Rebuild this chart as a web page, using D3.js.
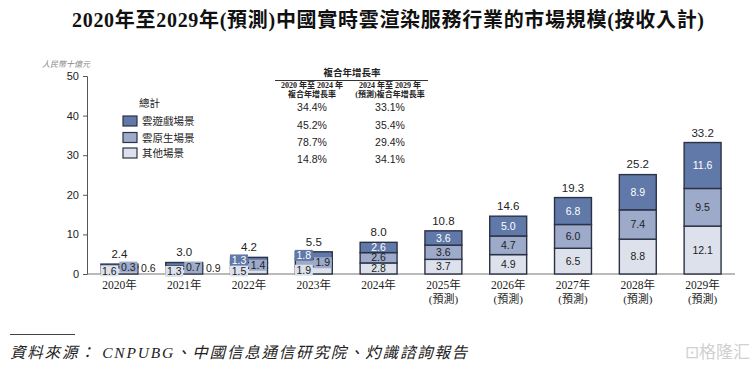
<!DOCTYPE html>
<html>
<head>
<meta charset="utf-8">
<script src="https://cdn.jsdelivr.net/npm/d3@7"></script>
<style>
  body { margin: 0; background: #fff; }
  svg { display: block; }
</style>
</head>
<body>
<svg id="chart"></svg>
<script>
var width = 755, height = 371

// data
var years = ["2020年", "2021年", "2022年", "2023年", "2024年", "2025年", "2026年", "2027年", "2028年", "2029年"]
var subLabels = ["", "", "", "", "", "(預測)", "(預測)", "(預測)", "(預測)", "(預測)"]
var other = [1.6, 1.3, 1.5, 1.9, 2.8, 3.7, 4.9, 6.5, 8.8, 12.1]
var native = [0.3, 0.7, 1.4, 1.9, 2.6, 3.6, 4.7, 6.0, 7.4, 9.5]
var game = [0.6, 0.9, 1.3, 1.8, 2.6, 3.6, 5.0, 6.8, 8.9, 11.6]
var totals = [2.4, 3.0, 4.2, 5.5, 8.0, 10.8, 14.6, 19.3, 25.2, 33.2]
var legendNames = ["雲遊戲場景", "雲原生場景", "其他場景"]
var cagr2024 = ["34.4%", "45.2%", "78.7%", "14.8%"]
var cagr2029 = ["33.1%", "35.4%", "29.4%", "34.1%"]
var yTicks = [0, 10, 20, 30, 40, 50]

var colors = { game: "#6079a8", native: "#9daaca", other: "#dce1ec" }
var edge = "#2b3245"
var serif = "'Liberation Serif', 'Noto Sans CJK TC', serif"
var sans = "'Liberation Sans', Arial, 'Noto Sans CJK TC', sans-serif"

var rows = years.map((y, i) => ({ year: y, sub: subLabels[i], other: other[i], native: native[i], game: game[i], total: totals[i] }))

var svg = d3.select("#chart").attr("width", width).attr("height", height)

var x = d3.scaleBand().domain(years).range([87, 735]).paddingInner(0.43).paddingOuter(0.215)
var y = d3.scaleLinear().domain([0, 50]).range([274, 76])

// title
svg.append("text")
    .attr("x", 388).attr("y", 27)
    .attr("text-anchor", "middle")
    .attr("font-family", serif).attr("font-weight", "bold").attr("font-size", 20)
    .attr("textLength", 632).attr("lengthAdjust", "spacing")
    .attr("fill", "#111")
    .text("2020年至2029年(預測)中國實時雲渲染服務行業的市場規模(按收入計)")

// unit
svg.append("text")
    .attr("x", 90).attr("y", 67)
    .attr("text-anchor", "end")
    .attr("font-family", serif).attr("font-style", "italic").attr("font-size", 8)
    .attr("fill", "#888")
    .text("人民幣十億元")

// y axis
var yAxis = svg.append("g")
    .attr("transform", "translate(87,0)")
    .call(d3.axisLeft(y).tickValues(yTicks).tickSize(4).tickPadding(4))
yAxis.select(".domain").attr("stroke", "#555")
yAxis.selectAll(".tick line").attr("stroke", "#555")
yAxis.selectAll("text").attr("font-family", sans).attr("font-size", 11).attr("fill", "#222")

// x axis line
svg.append("line")
    .attr("x1", 87).attr("x2", 735).attr("y1", y(0)).attr("y2", y(0))
    .attr("stroke", "#777").attr("stroke-width", 1.2)

// x labels
var xl = svg.append("g")
rows.forEach(d => {
    var cx = x(d.year) + x.bandwidth() / 2
    xl.append("text").attr("x", cx).attr("y", 289)
        .attr("text-anchor", "middle").attr("font-family", serif).attr("font-size", 11.5).attr("fill", "#222")
        .text(d.year)
    if (d.sub) xl.append("text").attr("x", cx).attr("y", 303)
        .attr("text-anchor", "middle").attr("font-family", serif).attr("font-size", 11).attr("fill", "#222")
        .text(d.sub)
})

// stacked bars
var keys = ["other", "native", "game"]
var series = d3.stack().keys(keys)(rows)

var bars = svg.append("g")
bars.selectAll("g")
    .data(series)
    .join("g")
        .attr("fill", s => colors[s.key])
    .selectAll("rect")
    .data(s => s)
    .join("rect")
        .attr("x", d => x(d.data.year))
        .attr("y", d => y(d[1]))
        .attr("width", x.bandwidth())
        .attr("height", d => y(d[0]) - y(d[1]))
        .attr("stroke", edge)
        .attr("stroke-width", 1.4)

// segment labels
var labels = svg.append("g")
series.forEach(s => {
    s.forEach(d => {
        var row = d.data
        var v = row[s.key]
        var cx = x(row.year) + x.bandwidth() / 2
        var cy = (y(d[0]) + y(d[1])) / 2
        var compact = row.total < 6
        var bg = null
        if (compact) {
            if (s.key == "other") { cx -= 10; bg = colors.other }
            else if (s.key == "native") { cx += 9; cy = Math.min(cy, 268); bg = colors.native }
            else if (v < 1) { cx += 29; cy = 268 }
            else { cx -= 10; bg = colors.game }
        }
        if (bg) {
            labels.append("rect")
                .attr("x", cx - 9).attr("y", cy - 5.5)
                .attr("width", 18).attr("height", 11)
                .attr("fill", bg)
        }
        var white = s.key == "game" && !(compact && v < 1)
        labels.append("text")
            .attr("x", cx).attr("y", cy + 3.7)
            .attr("text-anchor", "middle")
            .attr("font-family", sans).attr("font-size", 10.5)
            .attr("fill", white ? "#fff" : "#222")
            .text(v.toFixed(1))
    })
})

// totals
svg.append("g").selectAll("text")
    .data(rows)
    .join("text")
        .attr("x", d => x(d.year) + x.bandwidth() / 2)
        .attr("y", d => y(d.total) - 6)
        .attr("text-anchor", "middle")
        .attr("font-family", sans).attr("font-size", 11.5).attr("fill", "#222")
        .text(d => d.total.toFixed(1))

// legend
var legend = svg.append("g")
legend.append("text").attr("x", 139).attr("y", 107)
    .attr("font-family", serif).attr("font-size", 10.5).attr("fill", "#222").text("總計")
var legendKeys = ["game", "native", "other"]
var legendY = [121, 137.5, 153]
legendKeys.forEach((k, i) => {
    legend.append("rect")
        .attr("x", 123).attr("y", legendY[i] - 5)
        .attr("width", 14).attr("height", 10)
        .attr("fill", colors[k]).attr("stroke", edge).attr("stroke-width", 1.2)
    legend.append("text").attr("x", 142).attr("y", legendY[i] + 4)
        .attr("font-family", serif).attr("font-size", 10.5).attr("fill", "#222")
        .text(legendNames[i])
})

// CAGR table
var tbl = svg.append("g")
tbl.append("text").attr("x", 352).attr("y", 76)
    .attr("text-anchor", "middle").attr("font-family", serif).attr("font-weight", "bold")
    .attr("font-size", 9.5).attr("fill", "#222").text("複合年增長率")
tbl.append("line").attr("x1", 275).attr("x2", 428).attr("y1", 80.5).attr("y2", 80.5)
    .attr("stroke", "#333").attr("stroke-width", 1)
var heads = [["2020 年至 2024 年", "複合年增長率"], ["2024 年至 2029 年", "(預測)複合年增長率"]]
var colX = [312, 390]
heads.forEach((h, i) => {
    h.forEach((t, j) => {
        tbl.append("text").attr("x", colX[i]).attr("y", 88 + j * 8.5)
            .attr("text-anchor", "middle").attr("font-family", serif).attr("font-weight", "bold")
            .attr("font-size", 8).attr("fill", "#222").text(t)
    })
})
var tblY = [107, 124.5, 142, 159]
cagr2024.forEach((v, i) => {
    tbl.append("text").attr("x", colX[0]).attr("y", tblY[i] + 4)
        .attr("text-anchor", "middle").attr("font-family", sans).attr("font-size", 10.5).attr("fill", "#222").text(v)
    tbl.append("text").attr("x", colX[1]).attr("y", tblY[i] + 4)
        .attr("text-anchor", "middle").attr("font-family", sans).attr("font-size", 10.5).attr("fill", "#222").text(cagr2029[i])
})

// source
svg.append("line").attr("x1", 10).attr("x2", 75).attr("y1", 334.5).attr("y2", 334.5)
    .attr("stroke", "#444").attr("stroke-width", 1)
svg.append("text").attr("x", 10).attr("y", 358)
    .attr("font-family", serif).attr("font-style", "italic").attr("font-size", 15.5).attr("fill", "#222")
    .attr("letter-spacing", 1.8)
    .text("資料來源：  CNPUBG、中國信息通信研究院、灼識諮詢報告")

// watermark
svg.append("text").attr("x", 750).attr("y", 358)
    .attr("text-anchor", "end").attr("font-family", sans).attr("font-size", 17).attr("fill", "#d0d0d0")
    .text("⊡格隆汇")
</script>
</body>
</html>
